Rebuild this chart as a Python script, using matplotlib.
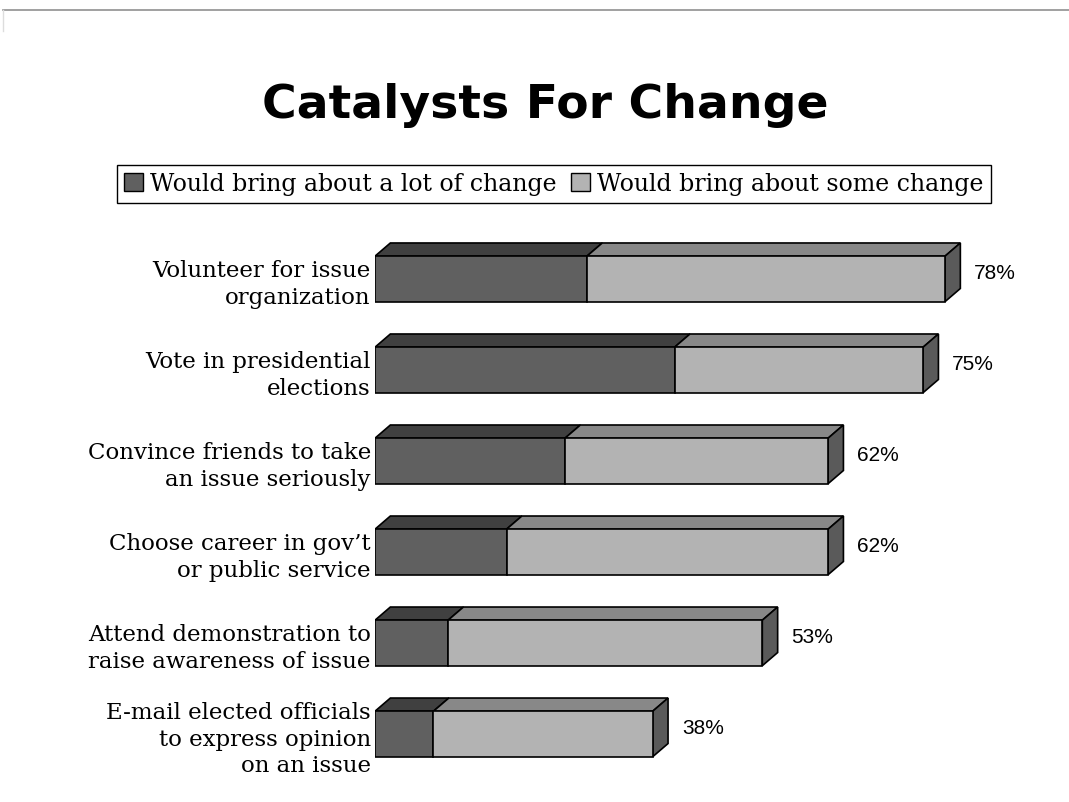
import matplotlib.pyplot as plt
from matplotlib.patches import Polygon, Patch

# data
labels = ["Volunteer for issue\norganization",
          "Vote in presidential\nelections",
          "Convince friends to take\nan issue seriously",
          "Choose career in gov\u2019t\nor public service",
          "Attend demonstration to\nraise awareness of issue",
          "E-mail elected officials\nto express opinion\non an issue"]
lot_change = [29, 41, 26, 18, 10, 8]
some_change = [49, 34, 36, 44, 43, 30]
totals = [78, 75, 62, 62, 53, 38]
series_names = ["Would bring about a lot of change", "Would bring about some change"]

dark_front, dark_top = "#606060", "#404040"
light_front, light_top = "#b3b3b3", "#888888"
side_col = "#5a5a5a"

fig = plt.figure(figsize=(10.69, 8.03), dpi=100)
ax = fig.add_axes([375 / 1069, 0.0167, 657.7 / 1069, 0.7367])

h = 0.5      # bar thickness
dx = 2.1     # 3d depth, x units
dy = 0.145   # 3d depth, y units

ypos = list(range(len(labels)))
ax.barh(ypos, lot_change, height=h, color=dark_front, edgecolor="black", lw=1.2, zorder=3)
ax.barh(ypos, some_change, left=lot_change, height=h, color=light_front,
        edgecolor="black", lw=1.2, zorder=3)

for y, a, t in zip(ypos, lot_change, totals):
    top = y - h / 2
    bot = y + h / 2
    ax.add_patch(Polygon([(0, top), (dx, top - dy), (a + dx, top - dy), (a, top)],
                         closed=True, fc=dark_top, ec="black", lw=1.2, zorder=2))
    ax.add_patch(Polygon([(a, top), (a + dx, top - dy), (t + dx, top - dy), (t, top)],
                         closed=True, fc=light_top, ec="black", lw=1.2, zorder=2))
    ax.add_patch(Polygon([(t, top), (t + dx, top - dy), (t + dx, bot - dy), (t, bot)],
                         closed=True, fc=side_col, ec="black", lw=1.2, zorder=2))
    ax.text(t + dx + 1.9, y - dy / 2, f"{t}%", va="center", ha="left",
            fontsize=15, family="Liberation Sans", color="black")

ax.set_xlim(0, 90)
ax.set_ylim(5.6, -0.9)
ax.set_yticks(ypos, labels, fontsize=16.5, family="DejaVu Serif", linespacing=1.25)
ax.tick_params(axis="y", length=0, pad=3)
ax.set_xticks([])
for s in ax.spines.values():
    s.set_visible(False)

fig.text(0.51, 0.869, "Catalysts For Change", ha="center", va="center",
         fontsize=34, fontweight="bold", family="DejaVu Sans")

handles = [Patch(fc=dark_front, ec="black"), Patch(fc=light_front, ec="black")]
leg = fig.legend(handles, series_names, loc="center", bbox_to_anchor=(554 / 1069, 1 - 185 / 803),
                 ncol=2, fancybox=False, edgecolor="black", framealpha=1,
                 handlelength=0.8, handleheight=0.8, handletextpad=0.3, columnspacing=0.6,
                 borderpad=0.3, borderaxespad=0,
                 prop={"family": "DejaVu Serif", "size": 17})
leg.get_frame().set_linewidth(1.0)

# thin frame line at top of slide
fig.add_artist(plt.Line2D([3 / 1069, 1], [1 - 11 / 803] * 2, color="#909090", lw=1.2))
fig.add_artist(plt.Line2D([3 / 1069] * 2, [1 - 11 / 803, 0.96], color="#dddddd", lw=1))

fig.savefig("out.png", dpi=100)
